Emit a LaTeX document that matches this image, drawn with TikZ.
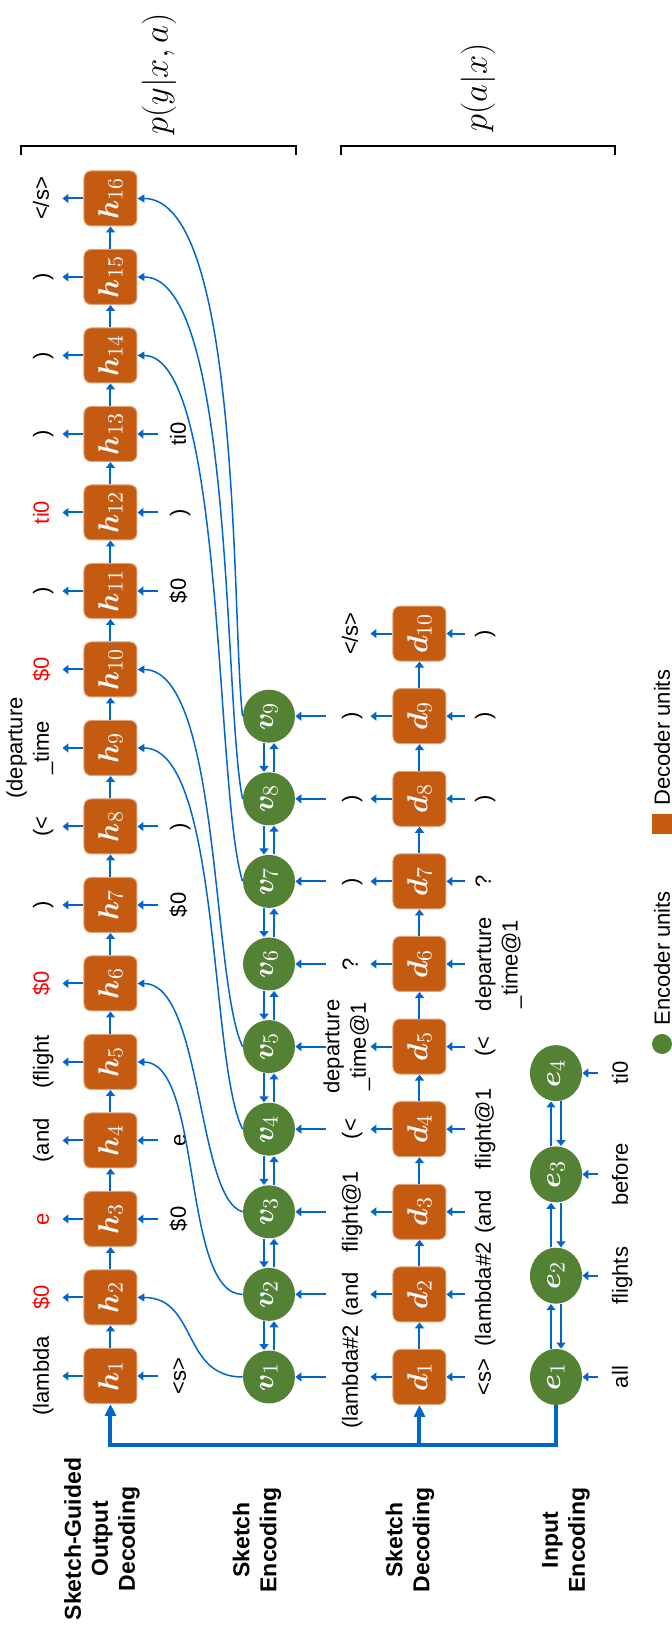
\documentclass[tikz,border=0pt]{standalone}
\usepackage{fontspec}
\setmainfont{Liberation Sans}
\usepackage{amsmath,bm}
\usetikzlibrary{arrows.meta,shapes.geometric}

\definecolor{decorange}{HTML}{C55A11}
\definecolor{encgreen}{HTML}{548235}
\definecolor{flowblue}{HTML}{0066CC}

\tikzset{
  decunit/.style={draw=decorange!55!white, line width=0.5pt, fill=decorange, rounded corners=3.5pt,
    minimum width=27.5pt, minimum height=26.5pt, inner sep=0pt, text=white,
    font=\fontsize{15}{15}\selectfont},
  encunit/.style={ellipse, fill=encgreen, minimum width=26.5pt, minimum height=26pt,
    inner sep=0pt, text=white, font=\fontsize{15}{15}\selectfont},
  tok/.style={anchor=base, inner sep=0pt, font=\fontsize{11}{13}\selectfont},
  rowname/.style={align=center, inner sep=0pt, font=\fontsize{11.5}{13.5}\selectfont\bfseries},
  prob/.style={anchor=west, inner sep=0pt, font=\fontsize{17.5}{17.5}\selectfont},
  flow/.style={flowblue, line width=1pt, -{Triangle[length=3pt,width=4.5pt]}},
  link/.style={flowblue, line width=0.75pt, -{Triangle[length=3.5pt,width=4pt]}},
  trunk/.style={flowblue, line width=2pt, -{Triangle[length=6pt,width=5.5pt]}},
}

\begin{document}
\begin{tikzpicture}[x=0.5pt, y=0.5pt, rotate=90, transform shape]
    \useasboundingbox (0,0) rectangle (1629,672);
    % Row names
    \node[rowname] (nout) at (90,570) {Sketch-Guided\\Output\\Decoding};
    \node[rowname] (nsenc) at (89,415) {Sketch\\Encoding};
    \node[rowname] (nsdec) at (89,262) {Sketch\\Decoding};
    \node[rowname] (ninp) at (89,106) {Input\\Encoding};
    % Output decoder units
    \node[decunit] (h1) at (253,561.5) {$\bm{h}_{1}$};
    \node[decunit] (h2) at (331.5,561.5) {$\bm{h}_{2}$};
    \node[decunit] (h3) at (410,561.5) {$\bm{h}_{3}$};
    \node[decunit] (h4) at (488.5,561.5) {$\bm{h}_{4}$};
    \node[decunit] (h5) at (567,561.5) {$\bm{h}_{5}$};
    \node[decunit] (h6) at (645.5,561.5) {$\bm{h}_{6}$};
    \node[decunit] (h7) at (724,561.5) {$\bm{h}_{7}$};
    \node[decunit] (h8) at (802.5,561.5) {$\bm{h}_{8}$};
    \node[decunit] (h9) at (881,561.5) {$\bm{h}_{9}$};
    \node[decunit] (h10) at (959.5,561.5) {$\bm{h}_{10}$};
    \node[decunit] (h11) at (1038,561.5) {$\bm{h}_{11}$};
    \node[decunit] (h12) at (1116.5,561.5) {$\bm{h}_{12}$};
    \node[decunit] (h13) at (1195,561.5) {$\bm{h}_{13}$};
    \node[decunit] (h14) at (1273.5,561.5) {$\bm{h}_{14}$};
    \node[decunit] (h15) at (1352,561.5) {$\bm{h}_{15}$};
    \node[decunit] (h16) at (1430.5,561.5) {$\bm{h}_{16}$};
    % Sketch encoder units
    \node[encunit] (v1) at (252,403) {$\bm{v}_{1}$};
    \node[encunit] (v2) at (334.6,403) {$\bm{v}_{2}$};
    \node[encunit] (v3) at (417.2,403) {$\bm{v}_{3}$};
    \node[encunit] (v4) at (499.8,403) {$\bm{v}_{4}$};
    \node[encunit] (v5) at (582.4,403) {$\bm{v}_{5}$};
    \node[encunit] (v6) at (665,403) {$\bm{v}_{6}$};
    \node[encunit] (v7) at (747.6,403) {$\bm{v}_{7}$};
    \node[encunit] (v8) at (830.2,403) {$\bm{v}_{8}$};
    \node[encunit] (v9) at (912.8,403) {$\bm{v}_{9}$};
    % Sketch decoder units
    \node[decunit] (d1) at (252,252.5) {$\bm{d}_{1}$};
    \node[decunit] (d2) at (334.6,252.5) {$\bm{d}_{2}$};
    \node[decunit] (d3) at (417.2,252.5) {$\bm{d}_{3}$};
    \node[decunit] (d4) at (499.8,252.5) {$\bm{d}_{4}$};
    \node[decunit] (d5) at (582.4,252.5) {$\bm{d}_{5}$};
    \node[decunit] (d6) at (665,252.5) {$\bm{d}_{6}$};
    \node[decunit] (d7) at (747.6,252.5) {$\bm{d}_{7}$};
    \node[decunit] (d8) at (830.2,252.5) {$\bm{d}_{8}$};
    \node[decunit] (d9) at (912.8,252.5) {$\bm{d}_{9}$};
    \node[decunit] (d10) at (995.4,252.5) {$\bm{d}_{10}$};
    % Input encoder units
    \node[encunit, minimum width=28pt] (e1) at (252,116) {$\bm{e}_{1}$};
    \node[encunit, minimum width=28pt] (e2) at (353.3,116) {$\bm{e}_{2}$};
    \node[encunit, minimum width=28pt] (e3) at (454.6,116) {$\bm{e}_{3}$};
    \node[encunit, minimum width=28pt] (e4) at (555.9,116) {$\bm{e}_{4}$};
    % Output tokens
    \node[tok] (y1) at (253,623) {(lambda};
    \node[tok, red] (y2) at (331.5,623) {\$0};
    \node[tok, red] (y3) at (410,623) {e};
    \node[tok] (y4) at (488.5,623) {(and};
    \node[tok] (y5) at (567,623) {(flight};
    \node[tok, red] (y6) at (645.5,623) {\$0};
    \node[tok] (y7) at (724,623) {)};
    \node[tok] (y8) at (802.5,623) {(<};
    \node[tok] (y9) at (881,623) {\shortstack{(departure\\\_time}};
    \node[tok, red] (y10) at (959.5,623) {\$0};
    \node[tok] (y11) at (1038,623) {)};
    \node[tok, red] (y12) at (1116.5,623) {ti0};
    \node[tok] (y13) at (1195,623) {)};
    \node[tok] (y14) at (1273.5,623) {)};
    \node[tok] (y15) at (1352,623) {)};
    \node[tok] (y16) at (1430.5,623) {</s>};
    % Output decoder inputs
    \node[tok] (x1) at (253,486) {<s>};
    \node[tok] (x3) at (410,486) {\$0};
    \node[tok] (x4) at (488.5,486) {e};
    \node[tok] (x7) at (724,486) {\$0};
    \node[tok] (x8) at (802.5,486) {)};
    \node[tok] (x11) at (1038,486) {\$0};
    \node[tok] (x12) at (1116.5,486) {)};
    \node[tok] (x13) at (1195,486) {ti0};
    % Sketch tokens
    \node[tok] (a1) at (252,314) {(lambda\#2};
    \node[tok] (a2) at (334.6,314) {(and};
    \node[tok] (a3) at (417.2,314) {flight@1};
    \node[tok] (a4) at (499.8,314) {(<};
    \node[tok] (a5) at (582.4,306) {\shortstack{departure\\\_time@1}};
    \node[tok] (a6) at (665,314) {?};
    \node[tok] (a7) at (747.6,314) {)};
    \node[tok] (a8) at (830.2,314) {)};
    \node[tok] (a9) at (912.8,314) {)};
    \node[tok] (a10) at (995.4,314) {</s>};
    % Sketch decoder inputs
    \node[tok] (b1) at (252,181) {<s>};
    \node[tok] (b2) at (334.6,181) {(lambda\#2};
    \node[tok] (b3) at (417.2,181) {(and};
    \node[tok] (b4) at (499.8,181) {flight@1};
    \node[tok] (b5) at (582.4,181) {(<};
    \node[tok] (b6) at (665,154.4) {\shortstack{departure\\\_time@1}};
    \node[tok] (b7) at (747.6,181) {?};
    \node[tok] (b8) at (830.2,181) {)};
    \node[tok] (b9) at (912.8,181) {)};
    \node[tok] (b10) at (995.4,181) {)};
    % Input words
    \node[tok] (w1) at (252,44) {all};
    \node[tok] (w2) at (353.3,44) {flights};
    \node[tok] (w3) at (454.6,44) {before};
    \node[tok] (w4) at (555.9,44) {ti0};
    % Output decoding arrows
    \draw[flow] (h1.north) -- ++(0,21);
    \draw[flow] (h2.north) -- ++(0,21);
    \draw[flow] (h3.north) -- ++(0,21);
    \draw[flow] (h4.north) -- ++(0,21);
    \draw[flow] (h5.north) -- ++(0,21);
    \draw[flow] (h6.north) -- ++(0,21);
    \draw[flow] (h7.north) -- ++(0,21);
    \draw[flow] (h8.north) -- ++(0,21);
    \draw[flow] (h9.north) -- ++(0,21);
    \draw[flow] (h10.north) -- ++(0,21);
    \draw[flow] (h11.north) -- ++(0,21);
    \draw[flow] (h12.north) -- ++(0,21);
    \draw[flow] (h13.north) -- ++(0,21);
    \draw[flow] (h14.north) -- ++(0,21);
    \draw[flow] (h15.north) -- ++(0,21);
    \draw[flow] (h16.north) -- ++(0,21);
    \draw[flow] ([yshift=-10.5pt]h1.south) -- (h1.south);
    \draw[flow] ([yshift=-10.5pt]h3.south) -- (h3.south);
    \draw[flow] ([yshift=-10.5pt]h4.south) -- (h4.south);
    \draw[flow] ([yshift=-10.5pt]h7.south) -- (h7.south);
    \draw[flow] ([yshift=-10.5pt]h8.south) -- (h8.south);
    \draw[flow] ([yshift=-10.5pt]h11.south) -- (h11.south);
    \draw[flow] ([yshift=-10.5pt]h12.south) -- (h12.south);
    \draw[flow] ([yshift=-10.5pt]h13.south) -- (h13.south);
    \draw[flow] (h1) -- (h2);
    \draw[flow] (h2) -- (h3);
    \draw[flow] (h3) -- (h4);
    \draw[flow] (h4) -- (h5);
    \draw[flow] (h5) -- (h6);
    \draw[flow] (h6) -- (h7);
    \draw[flow] (h7) -- (h8);
    \draw[flow] (h8) -- (h9);
    \draw[flow] (h9) -- (h10);
    \draw[flow] (h10) -- (h11);
    \draw[flow] (h11) -- (h12);
    \draw[flow] (h12) -- (h13);
    \draw[flow] (h13) -- (h14);
    \draw[flow] (h14) -- (h15);
    \draw[flow] (h15) -- (h16);
    % Sketch encoding arrows
    \draw[flow] ([yshift=-15.5pt]v1.south) -- (v1.south);
    \draw[flow] ([yshift=-15.5pt]v2.south) -- (v2.south);
    \draw[flow] ([yshift=-15.5pt]v3.south) -- (v3.south);
    \draw[flow] ([yshift=-15.5pt]v4.south) -- (v4.south);
    \draw[flow] ([yshift=-15.5pt]v5.south) -- (v5.south);
    \draw[flow] ([yshift=-15.5pt]v6.south) -- (v6.south);
    \draw[flow] ([yshift=-15.5pt]v7.south) -- (v7.south);
    \draw[flow] ([yshift=-15.5pt]v8.south) -- (v8.south);
    \draw[flow] ([yshift=-15.5pt]v9.south) -- (v9.south);
    \draw[flow] ([yshift=-2.5pt]v1.east) -- ([yshift=-2.5pt]v2.west);
    \draw[flow] ([yshift=2.5pt]v2.west) -- ([yshift=2.5pt]v1.east);
    \draw[flow] ([yshift=-2.5pt]v2.east) -- ([yshift=-2.5pt]v3.west);
    \draw[flow] ([yshift=2.5pt]v3.west) -- ([yshift=2.5pt]v2.east);
    \draw[flow] ([yshift=-2.5pt]v3.east) -- ([yshift=-2.5pt]v4.west);
    \draw[flow] ([yshift=2.5pt]v4.west) -- ([yshift=2.5pt]v3.east);
    \draw[flow] ([yshift=-2.5pt]v4.east) -- ([yshift=-2.5pt]v5.west);
    \draw[flow] ([yshift=2.5pt]v5.west) -- ([yshift=2.5pt]v4.east);
    \draw[flow] ([yshift=-2.5pt]v5.east) -- ([yshift=-2.5pt]v6.west);
    \draw[flow] ([yshift=2.5pt]v6.west) -- ([yshift=2.5pt]v5.east);
    \draw[flow] ([yshift=-2.5pt]v6.east) -- ([yshift=-2.5pt]v7.west);
    \draw[flow] ([yshift=2.5pt]v7.west) -- ([yshift=2.5pt]v6.east);
    \draw[flow] ([yshift=-2.5pt]v7.east) -- ([yshift=-2.5pt]v8.west);
    \draw[flow] ([yshift=2.5pt]v8.west) -- ([yshift=2.5pt]v7.east);
    \draw[flow] ([yshift=-2.5pt]v8.east) -- ([yshift=-2.5pt]v9.west);
    \draw[flow] ([yshift=2.5pt]v9.west) -- ([yshift=2.5pt]v8.east);
    % Sketch decoding arrows
    \draw[flow] (d1.north) -- ++(0,22);
    \draw[flow] (d2.north) -- ++(0,22);
    \draw[flow] (d3.north) -- ++(0,22);
    \draw[flow] (d4.north) -- ++(0,22);
    \draw[flow] (d5.north) -- ++(0,22);
    \draw[flow] (d6.north) -- ++(0,22);
    \draw[flow] (d7.north) -- ++(0,22);
    \draw[flow] (d8.north) -- ++(0,22);
    \draw[flow] (d9.north) -- ++(0,22);
    \draw[flow] (d10.north) -- ++(0,22);
    \draw[flow] ([yshift=-9.5pt]d1.south) -- (d1.south);
    \draw[flow] ([yshift=-9.5pt]d2.south) -- (d2.south);
    \draw[flow] ([yshift=-9.5pt]d3.south) -- (d3.south);
    \draw[flow] ([yshift=-9.5pt]d4.south) -- (d4.south);
    \draw[flow] ([yshift=-9.5pt]d5.south) -- (d5.south);
    \draw[flow] ([yshift=-9.5pt]d6.south) -- (d6.south);
    \draw[flow] ([yshift=-9.5pt]d7.south) -- (d7.south);
    \draw[flow] ([yshift=-9.5pt]d8.south) -- (d8.south);
    \draw[flow] ([yshift=-9.5pt]d9.south) -- (d9.south);
    \draw[flow] ([yshift=-9.5pt]d10.south) -- (d10.south);
    \draw[flow] (d1) -- (d2);
    \draw[flow] (d2) -- (d3);
    \draw[flow] (d3) -- (d4);
    \draw[flow] (d4) -- (d5);
    \draw[flow] (d5) -- (d6);
    \draw[flow] (d6) -- (d7);
    \draw[flow] (d7) -- (d8);
    \draw[flow] (d8) -- (d9);
    \draw[flow] (d9) -- (d10);
    % Input encoding arrows
    \draw[flow] ([yshift=-8pt]e1.south) -- (e1.south);
    \draw[flow] ([yshift=-8pt]e2.south) -- (e2.south);
    \draw[flow] ([yshift=-8pt]e3.south) -- (e3.south);
    \draw[flow] ([yshift=-8pt]e4.south) -- (e4.south);
    \draw[flow] ([yshift=2.5pt]e1.east) -- ([yshift=2.5pt]e2.west);
    \draw[flow] ([yshift=-2.5pt]e2.west) -- ([yshift=-2.5pt]e1.east);
    \draw[flow] ([yshift=2.5pt]e2.east) -- ([yshift=2.5pt]e3.west);
    \draw[flow] ([yshift=-2.5pt]e3.west) -- ([yshift=-2.5pt]e2.east);
    \draw[flow] ([yshift=2.5pt]e3.east) -- ([yshift=2.5pt]e4.west);
    \draw[flow] ([yshift=-2.5pt]e4.west) -- ([yshift=-2.5pt]e3.east);
    % Encoder state to both decoders
    \coordinate (fork) at (184,116);
    \draw[trunk] (e1.west) -- (fork) |- (h1.west);
    \draw[trunk] (fork |- d1) -- (d1.west);
    % Sketch encodings fed to the output decoder
    \draw[link] (v1.north) .. controls +(0,61) and +(0,-60) .. (h2.south);
    \draw[link] (v2.north) .. controls +(0,61) and +(0,-65) .. (h5.south);
    \draw[link] (v3.north) .. controls +(13,46) and +(0,-65) .. (h6.south);
    \draw[link] (v4.north) .. controls +(65,33) and +(0,-83) .. (h9.south);
    \draw[link] (v5.north) .. controls +(64,31) and +(0,-83) .. (h10.south);
    \draw[link] (v7.north) .. controls +(90,28) and +(0,-88) .. (h14.south);
    \draw[link] (v8.north) .. controls +(89,19) and +(0,-97) .. (h15.south);
    \draw[link] (v9.north) .. controls +(87,11) and +(0,-105) .. (h16.south);
    % Brackets
    \draw[line width=0.75pt] (1474,651) -- (1483,651) -- (1483,376) -- (1474,376);
    \draw[line width=0.75pt] (1474,331) -- (1483,331) -- (1483,57) -- (1474,57);
    \node[prob] (pyxa) at (1494,513) {$p(y|x,a)$};
    \node[prob] (pax) at (1497,194) {$p(a|x)$};
    % Legend
    \node[circle, fill=encgreen, minimum size=10pt, inner sep=0pt] (kenc) at (585,10) {};
    \node[tok, anchor=west] (tenc) at (603,10) {Encoder units};
    \node[fill=decorange, minimum size=10pt, inner sep=0pt] (kdec) at (805,10) {};
    \node[tok, anchor=west] (tdec) at (823,10) {Decoder units};
\end{tikzpicture}
\end{document}
